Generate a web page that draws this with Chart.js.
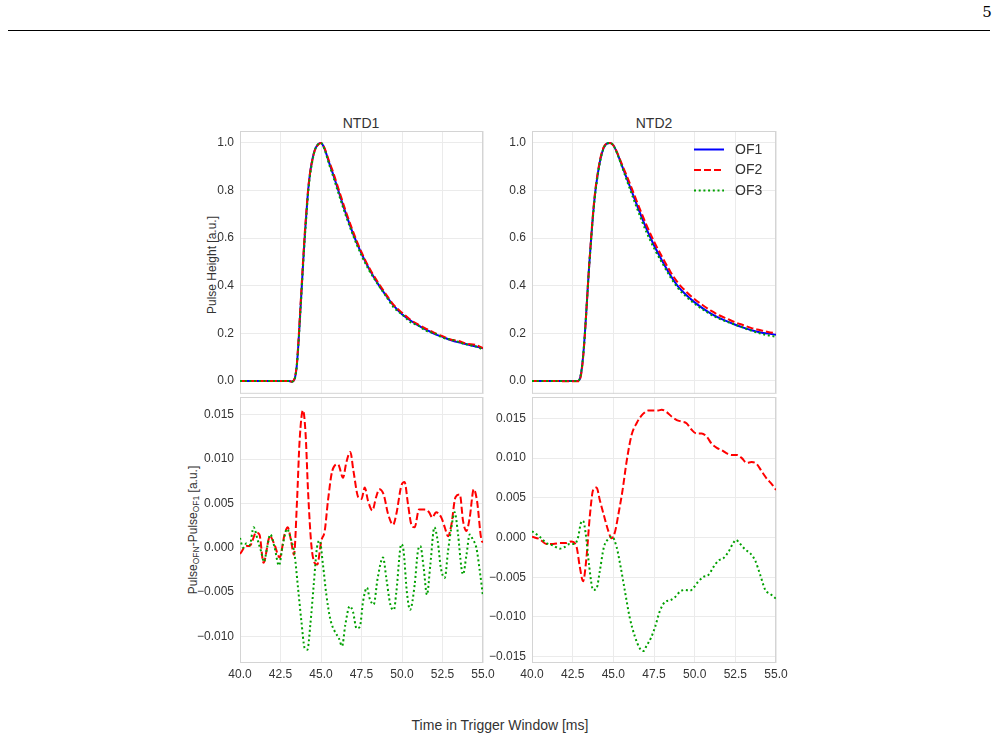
<!DOCTYPE html>
<html>
<head>
<meta charset="utf-8">
<script src="https://cdn.jsdelivr.net/npm/chart.js@4.4.0/dist/chart.umd.min.js"></script>
<style>
  body { margin: 0; background: #fff; font-family: "Liberation Sans", Arial, sans-serif; color: #333; }
  #page { position: relative; width: 999px; height: 740px; overflow: hidden; }
  canvas { position: absolute; }
  .txt { position: absolute; white-space: nowrap; transform: translate(-50%, -50%); }
  .ylab { transform: translate(-50%, -50%) rotate(-90deg); font-size: 12px; }
  .ylab sub { font-size: 8.5px; vertical-align: -2px; }
</style>
</head>
<body>
<div id="page">
  <div class="txt" style="left:987px; top:12px; font-family:'DejaVu Serif','Liberation Serif',serif; font-size:15px; color:#000;">5</div>
  <div style="position:absolute; left:8px; top:30px; width:982px; height:1px; background:#000;"></div>

  <div class="txt" style="left:361px; top:123px; font-size:14px;">NTD1</div>
  <div class="txt" style="left:654px; top:123px; font-size:14px;">NTD2</div>
  <div class="txt ylab" style="left:212px; top:265px;">Pulse Height [a.u.]</div>
  <div class="txt ylab" style="left:193px; top:530px;">Pulse<sub>OFN</sub>-Pulse<sub>OF1</sub> [a.u.]</div>
  <div class="txt" style="left:500px; top:725px; font-size:14px;">Time in Trigger Window [ms]</div>

  <canvas id="pulse1" width="327" height="296" style="left:180px; top:111px;"></canvas>
  <canvas id="pulse2" width="328" height="296" style="left:472px; top:111px;"></canvas>
  <canvas id="res1" width="327" height="316" style="left:180px; top:377px;"></canvas>
  <canvas id="res2" width="328" height="316" style="left:472px; top:377px;"></canvas>
</div>

<script>
// axis ticks and labels
const xTicks = [40, 42.5, 45, 47.5, 50, 52.5, 55];
const pulseTicks = [0, 0.2, 0.4, 0.6, 0.8, 1.0];
const res1Ticks = [-0.010, -0.005, 0, 0.005, 0.010, 0.015];
const res2Ticks = [-0.015, -0.010, -0.005, 0, 0.005, 0.010, 0.015];
const seriesLabels = ["OF1", "OF2", "OF3"];
const titles = ["NTD1", "NTD2"];

// NTD1 normalised pulses
const ntd1Time = [40, 43.0, 43.2, 43.3, 43.4, 43.5, 43.6, 43.7, 43.8, 43.9, 44.0, 44.1, 44.2, 44.3, 44.4, 44.6, 44.8, 45.0, 45.2, 45.5,
  45.75, 46.0, 46.5, 47.0, 47.5, 48.0, 48.5, 49.0, 49.5, 50.0, 50.5, 51.0, 51.5, 52.0, 52.5, 53.0, 53.5, 54.0, 54.5, 55.0];
const ntd1OF1 = [0, 0, -0.003, 0, 0.015, 0.06, 0.15, 0.265, 0.38, 0.50, 0.61, 0.705, 0.795, 0.86, 0.906, 0.967, 0.993, 1.0, 0.979, 0.917,
  0.868, 0.815, 0.71, 0.615, 0.535, 0.467, 0.41, 0.36, 0.315, 0.28, 0.255, 0.233, 0.215, 0.198, 0.185, 0.172, 0.162, 0.154, 0.146, 0.137];
const ntd1OF2 = [0, 0, -0.003, 0, 0.019, 0.064, 0.159, 0.278, 0.395, 0.515, 0.624, 0.716, 0.801, 0.863, 0.906, 0.965, 0.991, 1.0, 0.981, 0.923,
  0.877, 0.824, 0.719, 0.624, 0.541, 0.472, 0.416, 0.365, 0.318, 0.287, 0.258, 0.237, 0.219, 0.202, 0.188, 0.174, 0.168, 0.156, 0.152, 0.138];
const ntd1OF3 = [0, 0, -0.003, 0, 0.014, 0.057, 0.145, 0.258, 0.372, 0.49, 0.599, 0.693, 0.784, 0.851, 0.898, 0.964, 0.993, 0.999, 0.976, 0.91,
  0.859, 0.805, 0.701, 0.608, 0.527, 0.461, 0.407, 0.357, 0.308, 0.28, 0.248, 0.233, 0.21, 0.2, 0.182, 0.174, 0.163, 0.153, 0.146, 0.132];

// NTD2 normalised pulses
const ntd2Time = [40, 42.8, 42.9, 43.0, 43.1, 43.2, 43.3, 43.4, 43.5, 43.6, 43.7, 43.8, 43.9, 44.0, 44.2, 44.4, 44.6, 44.8, 45.0, 45.25,
  45.5, 45.75, 46.0, 46.5, 47.0, 47.5, 48.0, 48.5, 49.0, 49.5, 50.0, 50.5, 51.0, 51.5, 52.0, 52.5, 53.0, 53.5, 54.0, 54.5, 55.0];
const ntd2OF1 = [0, 0, 0.003, 0.025, 0.075, 0.15, 0.25, 0.36, 0.47, 0.565, 0.655, 0.735, 0.80, 0.85, 0.93, 0.978, 0.997, 1.0, 0.99, 0.955,
  0.91, 0.865, 0.82, 0.73, 0.645, 0.57, 0.505, 0.445, 0.395, 0.36, 0.33, 0.305, 0.283, 0.265, 0.25, 0.236, 0.224, 0.213, 0.205, 0.199, 0.194];
const ntd2OF2 = [0, -0.001, 0, 0.02, 0.069, 0.145, 0.247, 0.359, 0.472, 0.569, 0.661, 0.741, 0.806, 0.856, 0.935, 0.981, 0.998, 1.0, 0.99, 0.957,
  0.915, 0.874, 0.832, 0.745, 0.661, 0.586, 0.521, 0.46, 0.41, 0.374, 0.343, 0.318, 0.295, 0.276, 0.261, 0.246, 0.234, 0.222, 0.214, 0.206, 0.2];
const ntd2OF3 = [0, 0, 0.004, 0.027, 0.077, 0.152, 0.251, 0.359, 0.467, 0.56, 0.649, 0.728, 0.793, 0.844, 0.926, 0.977, 0.997, 1.0, 0.99, 0.953,
  0.906, 0.858, 0.81, 0.717, 0.631, 0.558, 0.496, 0.437, 0.388, 0.353, 0.324, 0.3, 0.279, 0.262, 0.248, 0.236, 0.223, 0.211, 0.2, 0.192, 0.186];

// NTD1 residuals (OFN - OF1)
const res1TimeOF2 = [40.0, 40.4, 40.6, 41.0, 41.2, 41.45, 41.85, 42.1, 42.45, 42.75, 42.95, 43.15, 43.33, 43.52, 43.68, 43.89, 44.05, 44.2,
  44.4, 44.6, 44.77, 45.02, 45.23, 45.43, 45.7, 46.05, 46.36, 46.56, 46.81, 47.0, 47.3, 47.5, 47.7, 47.9, 48.17, 48.4, 48.6, 48.87, 49.14,
  49.45, 49.65, 49.96, 50.16, 50.37, 50.58, 50.78, 51.05, 51.4, 51.67, 51.87, 52.1, 52.43, 52.64, 52.84, 53.05, 53.3, 53.57, 53.77, 53.98,
  54.18, 54.43, 54.63, 54.9, 55.0];
const res1OF2 = [-0.0007, 0.0002, 0.0002, 0.0017, 0.0015, -0.0017, 0.0013, 0.0005, -0.0011, 0.0015, 0.0023, 0.0008, -0.0008, 0.0053, 0.0121,
  0.0155, 0.0128, 0.0064, 0.0004, -0.0017, -0.0019, 0.0008, 0.0019, 0.0053, 0.0087, 0.0094, 0.0079, 0.0096, 0.0108, 0.0087, 0.0057, 0.0055,
  0.0068, 0.0053, 0.0042, 0.0057, 0.0066, 0.0060, 0.0038, 0.0026, 0.0038, 0.0070, 0.0074, 0.0049, 0.0026, 0.0023, 0.0043, 0.0043, 0.0040,
  0.0034, 0.0040, 0.0034, 0.0023, 0.0013, 0.0026, 0.0057, 0.0060, 0.0030, 0.0019, 0.0034, 0.0066, 0.0053, 0.0009, 0.0006];
const res1TimeOF3 = [40.0, 40.19, 40.4, 40.6, 40.84, 41.1, 41.3, 41.48, 41.67, 41.87, 42.14, 42.4, 42.65, 42.9, 43.17, 43.37, 43.58, 43.79,
  43.99, 44.16, 44.34, 44.55, 44.75, 44.92, 45.12, 45.33, 45.58, 45.84, 46.1, 46.3, 46.5, 46.77, 46.97, 47.2, 47.4, 47.6, 47.84, 48.0, 48.25,
  48.5, 48.83, 49.03, 49.28, 49.5, 49.65, 49.96, 50.1, 50.3, 50.5, 50.78, 50.98, 51.13, 51.34, 51.54, 51.75, 52.0, 52.2, 52.4, 52.64, 52.84,
  53.05, 53.25, 53.46, 53.67, 53.77, 53.98, 54.18, 54.38, 54.59, 54.8, 55.0];
const res1OF3 = [0.0011, 0.0000, 0.0005, 0.0003, 0.0023, 0.0008, -0.0004, -0.0016, 0.0000, 0.0015, 0.0000, -0.0020, 0.0004, 0.0021, 0.0008,
  -0.0008, -0.0045, -0.0083, -0.0113, -0.0115, -0.0087, -0.0042, 0.0000, 0.0008, -0.0019, -0.0053, -0.0081, -0.0094, -0.0102, -0.0111,
  -0.0087, -0.0066, -0.0072, -0.0091, -0.0089, -0.0060, -0.0045, -0.0057, -0.0064, -0.0034, -0.0011, -0.0034, -0.0064, -0.0070, -0.0050,
  0.0004, -0.0004, -0.0050, -0.0070, -0.0042, -0.0004, 0.0002, -0.0023, -0.0053, -0.0019, 0.0023, 0.0008, -0.0023, -0.0034, -0.0004,
  0.0023, 0.0040, 0.0015, -0.0023, -0.0030, -0.0008, 0.0015, 0.0009, 0.0000, -0.0026, -0.0055];

// NTD2 residuals (OFN - OF1)
const res2TimeOF2 = [40.0, 40.47, 40.88, 41.3, 41.7, 42.1, 42.4, 42.73, 42.94, 43.14, 43.35, 43.55, 43.76, 43.97, 44.17, 44.42, 44.68, 44.89,
  45.1, 45.3, 45.57, 45.81, 46.12, 46.43, 46.84, 47.15, 47.46, 47.76, 47.97, 48.28, 48.6, 48.9, 49.2, 49.5, 49.8, 50.12, 50.43, 50.74, 51.05,
  51.36, 51.67, 51.97, 52.28, 52.6, 52.9, 53.2, 53.5, 53.8, 54.13, 54.44, 54.75, 55.0];
const res2OF2 = [0.0001, -0.0002, -0.0008, -0.0008, -0.0007, -0.0007, -0.0005, -0.0011, -0.0037, -0.0055, -0.0025, 0.0026, 0.0060, 0.0063,
  0.0047, 0.0028, 0.0009, -0.0001, 0.0007, 0.0028, 0.0060, 0.0095, 0.0129, 0.0144, 0.0156, 0.0160, 0.0160, 0.0160, 0.0161, 0.0158, 0.0152,
  0.0148, 0.0146, 0.0144, 0.0136, 0.0131, 0.0131, 0.0127, 0.0118, 0.0113, 0.0110, 0.0106, 0.0104, 0.0104, 0.0100, 0.0094, 0.0095, 0.0093,
  0.0083, 0.0074, 0.0067, 0.0060];
const res2TimeOF3 = [40.0, 40.47, 40.88, 41.3, 41.7, 42.0, 42.32, 42.63, 42.84, 43.0, 43.14, 43.3, 43.5, 43.76, 43.97, 44.17, 44.42, 44.68,
  44.93, 45.2, 45.45, 45.7, 46.0, 46.33, 46.64, 46.84, 47.05, 47.3, 47.56, 47.87, 48.18, 48.49, 48.8, 49.1, 49.4, 49.7, 49.9, 50.2, 50.5,
  50.85, 51.16, 51.46, 51.77, 52.08, 52.34, 52.55, 52.8, 53.1, 53.42, 53.72, 54.03, 54.34, 54.65, 55.0];
const res2OF3 = [0.0008, 0.0001, -0.0007, -0.0010, -0.0014, -0.0012, -0.0008, -0.0008, 0.0001, 0.0018, 0.0021, 0.0005, -0.0033, -0.0066,
  -0.0064, -0.0042, -0.0012, -0.0002, 0.0001, -0.0012, -0.0037, -0.0066, -0.0100, -0.0125, -0.0140, -0.0143, -0.0136, -0.0127, -0.0113,
  -0.0092, -0.0081, -0.0079, -0.0075, -0.0068, -0.0066, -0.0067, -0.0064, -0.0056, -0.0050, -0.0047, -0.0037, -0.0029, -0.0026, -0.0018,
  -0.0008, -0.0003, -0.0008, -0.0015, -0.0020, -0.0029, -0.0047, -0.0066, -0.0071, -0.0077];

const FONT = "'Liberation Sans', Arial, sans-serif";
const TEXT = "#333";

// line looks for OF1 / OF2 / OF3
const styles = [
  { borderColor: "#0000ff", borderDash: [], borderWidth: 2, order: 3 },
  { borderColor: "#ff0000", borderDash: [7, 3], borderWidth: 2, order: 2 },
  { borderColor: "#00a000", borderDash: [2, 2.7], borderWidth: 2, order: 1 }
];

const series = (idx, t, v) => ({
  label: seriesLabels[idx],
  data: t.map((x, i) => ({ x: x, y: v[i] })),
  ...styles[idx],
  pointRadius: 0,
  fill: false,
  cubicInterpolationMode: "monotone"
});

const fmt = (v, d) => v.toFixed(d).replace("-", "\u2212");

// light grey box round each plot
const framePlugin = {
  id: "frame",
  beforeDatasetsDraw(chart) {
    const a = chart.chartArea;
    const ctx = chart.ctx;
    ctx.save();
    ctx.strokeStyle = "#d4d4d4";
    ctx.lineWidth = 1;
    ctx.strokeRect(a.left + 0.5, a.top + 0.5, a.right - a.left - 1, a.bottom - a.top - 1);
    ctx.restore();
  }
};

// legend drawn inside the top right plot
const legendPlugin = {
  id: "ofLegend",
  afterDatasetsDraw(chart) {
    const a = chart.chartArea;
    const ctx = chart.ctx;
    ctx.save();
    chart.data.datasets.forEach((ds, i) => {
      const y = a.top + 18.5 + i * 20.5;
      const x0 = a.right - 82;
      ctx.strokeStyle = ds.borderColor;
      ctx.lineWidth = ds.borderWidth;
      ctx.setLineDash(ds.borderDash);
      ctx.beginPath();
      ctx.moveTo(x0, y);
      ctx.lineTo(x0 + 30, y);
      ctx.stroke();
      ctx.setLineDash([]);
      ctx.fillStyle = TEXT;
      ctx.font = "14px " + FONT;
      ctx.textBaseline = "middle";
      ctx.fillText(ds.label, x0 + 41, y + 0.5);
    });
    ctx.restore();
  }
};

const createChart = (id, datasets, yMin, yMax, yTicks, digits, showX, extra) => {
  const ctx = document.getElementById(id).getContext("2d");
  return new Chart(ctx, {
    type: "line",
    data: { datasets: datasets },
    plugins: extra ? [framePlugin, extra] : [framePlugin],
    options: {
      responsive: false,
      animation: false,
      events: [],
      layout: { padding: { left: 0, top: 20, right: 24, bottom: showX ? 0 : 10 } },
      plugins: { legend: { display: false }, tooltip: { enabled: false } },
      scales: {
        x: {
          type: "linear",
          min: 40,
          max: 55,
          afterBuildTicks: (s) => { s.ticks = xTicks.map((v) => ({ value: v })); },
          afterFit: (s) => { s.height = showX ? 30 : 0; },
          grid: { color: "#ebebeb", drawTicks: false },
          border: { display: false },
          ticks: {
            display: showX,
            padding: 4,
            maxRotation: 0,
            color: TEXT,
            font: { family: FONT, size: 12 },
            callback: (v) => fmt(v, 1)
          }
        },
        y: {
          min: yMin,
          max: yMax,
          afterBuildTicks: (s) => { s.ticks = yTicks.map((v) => ({ value: v })); },
          afterFit: (s) => { s.width = 60; },
          grid: { color: "#ebebeb", drawTicks: false },
          border: { display: false },
          ticks: {
            padding: 6,
            color: TEXT,
            font: { family: FONT, size: 12 },
            callback: (v) => fmt(v, digits)
          }
        }
      }
    }
  });
};

createChart("pulse1", [series(0, ntd1Time, ntd1OF1), series(1, ntd1Time, ntd1OF2), series(2, ntd1Time, ntd1OF3)],
  -0.054, 1.05, pulseTicks, 1, false);
createChart("pulse2", [series(0, ntd2Time, ntd2OF1), series(1, ntd2Time, ntd2OF2), series(2, ntd2Time, ntd2OF3)],
  -0.054, 1.05, pulseTicks, 1, false, legendPlugin);
createChart("res1", [series(1, res1TimeOF2, res1OF2), series(2, res1TimeOF3, res1OF3)],
  -0.0130, 0.0170, res1Ticks, 3, true);
createChart("res2", [series(1, res2TimeOF2, res2OF2), series(2, res2TimeOF3, res2OF3)],
  -0.0158, 0.0177, res2Ticks, 3, true);
</script>
</body>
</html>
